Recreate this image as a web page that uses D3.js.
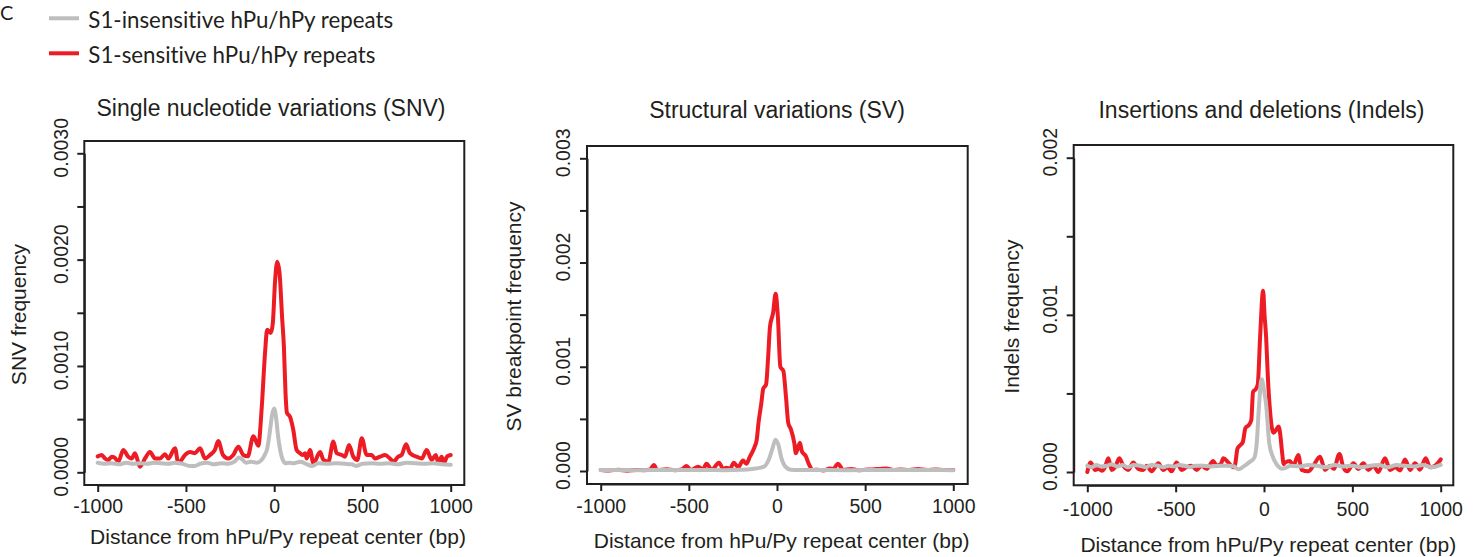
<!DOCTYPE html>
<html><head><meta charset="utf-8">
<script src="https://cdn.jsdelivr.net/npm/d3@7"></script>
<style>body{margin:0;background:#fff}svg{display:block}text{font-variant-ligatures:none;font-feature-settings:"liga" 0,"clig" 0}</style>
</head><body>
<svg id="chart" width="1484" height="557"></svg>
<script>
// ---------------- DATA ----------------
const legendLabels = ["S1-insensitive hPu/hPy repeats", "S1-sensitive hPu/hPy repeats"];
const panelTitles = ["Single nucleotide variations (SNV)", "Structural variations (SV)", "Insertions and deletions (Indels)"];
const yTitles = ["SNV frequency", "SV breakpoint frequency", "Indels frequency"];
const xTitle = "Distance from hPu/Py repeat center (bp)";
const xTickValues = [-1000, -500, 0, 500, 1000];
const xTickLabels = ["-1000", "-500", "0", "500", "1000"];
const snvYTicks = [0, 0.0005, 0.001, 0.0015, 0.002, 0.0025, 0.003];
const snvYLabels = ["0.0000", "", "0.0010", "", "0.0020", "", "0.0030"];
const svYTicks = [0, 0.0005, 0.001, 0.0015, 0.002, 0.0025, 0.003];
const svYLabels = ["0.000", "", "0.001", "", "0.002", "", "0.003"];
const indelYTicks = [0, 0.0005, 0.001, 0.0015, 0.002];
const indelYLabels = ["0.000", "", "0.001", "", "0.002"];

// SNV, S1-sensitive (red)
const snvSensBp = [-1000,-977,-959,-940,-921,-905,-883,-855,-827,-807,-789,-760,-732,-704,-675,-647,-619,-600,-562,-543,-505,-477,-449,-420,-392,-364,-336,-317,-290,-260,-232,-203,-175,-150,-118,-90,-71,-52,-40,-20,-8,5,17,30,45,55,64,72,90,108,127,146,160,175,184,203,222,260,279,307,335,354,382,401,424,448,471,496,524,552,571,600,628,656,675,703,722,747,769,807,836,864,892,915,930,949,962,980,1000];
const snvSensFreq = [0.15e-3,0.163e-3,0.13e-3,0.116e-3,0.147e-3,0.14e-3,0.10e-3,0.21e-3,0.147e-3,0.13e-3,0.18e-3,0.053e-3,0.13e-3,0.19e-3,0.13e-3,0.13e-3,0.17e-3,0.13e-3,0.226e-3,0.085e-3,0.163e-3,0.19e-3,0.18e-3,0.226e-3,0.13e-3,0.163e-3,0.21e-3,0.294e-3,0.163e-3,0.13e-3,0.163e-3,0.24e-3,0.163e-3,0.15e-3,0.34e-3,0.25e-3,0.60e-3,1.12e-3,1.34e-3,1.31e-3,1.40e-3,1.80e-3,1.98e-3,1.88e-3,1.45e-3,1.18e-3,0.75e-3,0.56e-3,0.52e-3,0.40e-3,0.21e-3,0.18e-3,0.163e-3,0.18e-3,0.13e-3,0.21e-3,0.085e-3,0.19e-3,0.116e-3,0.10e-3,0.29e-3,0.18e-3,0.163e-3,0.147e-3,0.257e-3,0.147e-3,0.116e-3,0.32e-3,0.163e-3,0.163e-3,0.13e-3,0.147e-3,0.163e-3,0.13e-3,0.10e-3,0.147e-3,0.163e-3,0.263e-3,0.18e-3,0.147e-3,0.13e-3,0.21e-3,0.116e-3,0.163e-3,0.09e-3,0.147e-3,0.09e-3,0.15e-3,0.163e-3];
// SNV, S1-insensitive (grey)
const snvInsBp = [-1000,-960,-920,-880,-840,-800,-760,-720,-680,-640,-600,-560,-520,-480,-450,-420,-380,-340,-300,-260,-225,-200,-180,-160,-130,-100,-75,-55,-40,-25,-12,0,10,22,35,48,65,85,110,150,180,215,250,300,350,400,440,463,500,550,600,650,700,750,800,850,900,950,1000];
const snvInsFreq = [0.09e-3,0.08e-3,0.085e-3,0.075e-3,0.09e-3,0.08e-3,0.085e-3,0.08e-3,0.09e-3,0.085e-3,0.08e-3,0.09e-3,0.08e-3,0.06e-3,0.06e-3,0.08e-3,0.09e-3,0.075e-3,0.085e-3,0.08e-3,0.10e-3,0.14e-3,0.12e-3,0.09e-3,0.10e-3,0.09e-3,0.11e-3,0.16e-3,0.22e-3,0.38e-3,0.54e-3,0.60e-3,0.52e-3,0.34e-3,0.20e-3,0.12e-3,0.085e-3,0.09e-3,0.085e-3,0.10e-3,0.08e-3,0.06e-3,0.085e-3,0.08e-3,0.085e-3,0.08e-3,0.075e-3,0.06e-3,0.08e-3,0.085e-3,0.08e-3,0.085e-3,0.075e-3,0.09e-3,0.085e-3,0.08e-3,0.085e-3,0.075e-3,0.07e-3];

// SV, S1-sensitive (red)
const svSensBp = [-1000,-950,-900,-850,-800,-750,-720,-698,-680,-626,-580,-540,-513,-490,-447,-420,-400,-370,-329,-305,-287,-265,-245,-220,-193,-174,-153,-140,-125,-115,-105,-89,-78,-62,-50,-40,-22,-8,5,19,36,51,64,79,98,107,130,141,164,182,204,230,263,300,320,345,376,420,460,500,540,580,620,660,700,750,800,850,900,950,1000];
const svSensFreq = [0.01e-3,0.005e-3,0.012e-3,0.003e-3,0.01e-3,0.008e-3,0.015e-3,0.058e-3,0.01e-3,0.016e-3,0.008e-3,0.015e-3,0.048e-3,0.01e-3,0.04e-3,0.015e-3,0.07e-3,0.012e-3,0.08e-3,0.02e-3,0.03e-3,0.025e-3,0.08e-3,0.035e-3,0.10e-3,0.07e-3,0.14e-3,0.18e-3,0.24e-3,0.30e-3,0.46e-3,0.65e-3,0.79e-3,0.83e-3,1.10e-3,1.38e-3,1.52e-3,1.70e-3,1.48e-3,1.00e-3,0.96e-3,0.71e-3,0.46e-3,0.40e-3,0.27e-3,0.17e-3,0.27e-3,0.19e-3,0.14e-3,0.06e-3,0.01e-3,0.012e-3,0.005e-3,0.025e-3,0.02e-3,0.07e-3,0.01e-3,0.02e-3,0.008e-3,0.012e-3,0.015e-3,0.02e-3,0.025e-3,0.01e-3,0.015e-3,0.01e-3,0.02e-3,0.01e-3,0.015e-3,0.01e-3,0.01e-3];
// SV, S1-insensitive (grey)
const svInsBp = [-1000,-800,-600,-400,-300,-200,-140,-100,-70,-55,-42,-25,-9,8,24,40,55,80,120,200,400,600,800,1000];
const svInsFreq = [0.01e-3,0.008e-3,0.01e-3,0.01e-3,0.008e-3,0.012e-3,0.02e-3,0.03e-3,0.045e-3,0.08e-3,0.13e-3,0.22e-3,0.30e-3,0.25e-3,0.13e-3,0.06e-3,0.03e-3,0.012e-3,0.01e-3,0.01e-3,0.008e-3,0.01e-3,0.01e-3,0.008e-3];

// Indels, S1-sensitive (red)
const indelSensBp = [-1000,-981,-956,-937,-918,-900,-881,-862,-843,-819,-797,-768,-740,-712,-683,-664,-636,-598,-570,-545,-523,-495,-466,-438,-410,-381,-353,-325,-287,-268,-245,-230,-202,-174,-164,-150,-135,-120,-105,-85,-72,-62,-45,-35,-22,-5,3,12,22,34,53,70,82,92,101,112,119,147,166,194,213,251,279,317,345,374,395,427,449,472,506,534,562,591,619,647,685,713,742,770,798,827,855,883,915,940,968,1000];
const indelSensFreq = [0.0,0.06e-3,0.013e-3,0.02e-3,0.008e-3,0.03e-3,0.087e-3,0.013e-3,0.03e-3,0.087e-3,0.04e-3,0.013e-3,0.06e-3,0.02e-3,0.013e-3,0.04e-3,0.004e-3,0.055e-3,0.013e-3,0.03e-3,0.004e-3,0.06e-3,0.013e-3,0.03e-3,0.04e-3,0.013e-3,0.04e-3,0.02e-3,0.07e-3,0.04e-3,0.05e-3,0.087e-3,0.06e-3,0.03e-3,0.045e-3,0.15e-3,0.17e-3,0.19e-3,0.28e-3,0.30e-3,0.33e-3,0.51e-3,0.53e-3,0.56e-3,0.86e-3,1.154e-3,1.00e-3,0.86e-3,0.60e-3,0.39e-3,0.25e-3,0.27e-3,0.29e-3,0.24e-3,0.14e-3,0.05e-3,0.06e-3,0.07e-3,0.04e-3,0.108e-3,0.013e-3,0.004e-3,0.04e-3,0.097e-3,0.013e-3,0.04e-3,0.02e-3,0.115e-3,0.03e-3,0.004e-3,0.055e-3,0.02e-3,0.055e-3,0.013e-3,0.04e-3,0.0,0.087e-3,0.013e-3,0.03e-3,0.01e-3,0.08e-3,0.013e-3,0.055e-3,0.015e-3,0.087e-3,0.03e-3,0.04e-3,0.08e-3];
// Indels, S1-insensitive (grey)
const indelInsBp = [-1000,-975,-950,-920,-890,-860,-830,-800,-770,-740,-700,-670,-640,-600,-570,-540,-510,-480,-450,-420,-390,-350,-300,-250,-200,-170,-145,-117,-79,-55,-40,-30,-13,0,12,30,49,65,81,100,120,150,200,250,300,350,400,450,500,550,600,650,700,750,800,850,900,950,1000];
const indelInsFreq = [0.04e-3,0.03e-3,0.045e-3,0.035e-3,0.04e-3,0.05e-3,0.035e-3,0.045e-3,0.03e-3,0.045e-3,0.04e-3,0.03e-3,0.045e-3,0.04e-3,0.03e-3,0.04e-3,0.035e-3,0.045e-3,0.04e-3,0.03e-3,0.04e-3,0.04e-3,0.035e-3,0.04e-3,0.04e-3,0.035e-3,0.017e-3,0.034e-3,0.066e-3,0.09e-3,0.2e-3,0.39e-3,0.59e-3,0.52e-3,0.43e-3,0.18e-3,0.10e-3,0.06e-3,0.036e-3,0.02e-3,0.025e-3,0.04e-3,0.035e-3,0.045e-3,0.04e-3,0.03e-3,0.045e-3,0.035e-3,0.04e-3,0.03e-3,0.04e-3,0.045e-3,0.03e-3,0.045e-3,0.04e-3,0.035e-3,0.045e-3,0.03e-3,0.045e-3];

// ---------------- STYLE / LAYOUT ----------------
const RED = "#ed1c24", GREY = "#bebebe", LEGEND_GREY = "#bcbec0", INK = "#231f20";
const FONT = "'Liberation Sans', Arial, Helvetica, sans-serif";
const LFONT = "Lato, 'Open Sans', sans-serif";

const svg = d3.select("#chart");

const panels = [
  { title: panelTitles[0], ytitle: yTitles[0], ticks: snvYTicks, labels: snvYLabels, ymax: 0.003,
    box: [84.3, 141, 464.3, 485], xr: [97.7, 450.7], yr: [472.3, 153.3],
    titleX: 271, titleY: 116, xlabY: 513, xtitleX: 278, xtitleY: 544, ylabX: 68, ytitleX: 26,
    series: [[snvSensBp, snvSensFreq, RED], [snvInsBp, snvInsFreq, GREY]] },
  { title: panelTitles[1], ytitle: yTitles[1], ticks: svYTicks, labels: svYLabels, ymax: 0.003,
    box: [587, 146, 967.7, 484], xr: [600.7, 953.3], yr: [471, 158.3],
    titleX: 777, titleY: 118.3, xlabY: 512.7, xtitleX: 781.7, xtitleY: 548.3, ylabX: 570, ytitleX: 520.5,
    series: [[svSensBp, svSensFreq, RED], [svInsBp, svInsFreq, GREY]] },
  { title: panelTitles[2], ytitle: yTitles[2], ticks: indelYTicks, labels: indelYLabels, ymax: 0.002,
    box: [1073.7, 145, 1453.3, 485.3], xr: [1087.3, 1440.7], yr: [472, 157.7],
    titleX: 1261.5, titleY: 118.3, xlabY: 516, xtitleX: 1268.3, xtitleY: 551.7, ylabX: 1056.7, ytitleX: 1019,
    series: [[indelSensBp, indelSensFreq, RED], [indelInsBp, indelInsFreq, GREY]] }
];

panels.forEach(p => {
  const x = d3.scaleLinear().domain([-1000, 1000]).range(p.xr);
  const y = d3.scaleLinear().domain([0, p.ymax]).range(p.yr);
  const g = svg.append("g");

  // lines
  const line = d3.line().x(d => x(d[0])).y(d => y(d[1])).curve(d3.curveMonotoneX);
  p.series.forEach(([bx, fy, col]) => {
    const pts = bx.map((b, i) => [b, fy[i]]);
    g.append("path").attr("d", line(pts)).attr("fill", "none").attr("stroke", col)
      .attr("stroke-width", 4).attr("stroke-linejoin", "round").attr("stroke-linecap", "round");
  });

  // box
  const [bx0, by0, bx1, by1] = p.box;
  g.append("rect").attr("x", bx0).attr("y", by0).attr("width", bx1 - bx0).attr("height", by1 - by0)
    .attr("fill", "none").attr("stroke", INK).attr("stroke-width", 2);

  // x axis
  const gx = g.append("g").attr("transform", `translate(0,${by1})`)
    .call(d3.axisBottom(x).tickValues(xTickValues).tickFormat((d, i) => xTickLabels[i]).tickSize(7).tickSizeOuter(0));
  gx.select(".domain").attr("stroke", INK).attr("stroke-width", 2);
  gx.selectAll(".tick line").attr("stroke", INK).attr("stroke-width", 2);
  gx.selectAll(".tick text").attr("dy", null).attr("y", p.xlabY - by1)
    .attr("font-family", FONT).attr("font-size", 19.5).attr("fill", INK);

  // y axis
  const gy = g.append("g").attr("transform", `translate(${bx0},0)`)
    .call(d3.axisLeft(y).tickValues(p.ticks).tickFormat((d, i) => p.labels[i]).tickSize(7).tickSizeOuter(0));
  gy.select(".domain").attr("stroke", INK).attr("stroke-width", 2);
  gy.selectAll(".tick line").attr("stroke", INK).attr("stroke-width", 2);
  gy.selectAll(".tick text").attr("x", null).attr("dy", null)
    .attr("transform", `translate(${p.ylabX - bx0},-6) rotate(-90)`)
    .attr("text-anchor", "middle").attr("font-family", FONT).attr("font-size", 19.5).attr("fill", INK);

  // titles
  g.append("text").attr("x", p.titleX).attr("y", p.titleY).attr("text-anchor", "middle")
    .attr("font-family", FONT).attr("font-size", 23).attr("fill", INK).text(p.title);
  g.append("text").attr("x", p.xtitleX).attr("y", p.xtitleY).attr("text-anchor", "middle")
    .attr("font-family", FONT).attr("font-size", 21).attr("fill", INK).text(xTitle);
  const cy = (by0 + by1) / 2 + 1.5;
  g.append("text").attr("transform", `translate(${p.ytitleX},${cy}) rotate(-90)`).attr("text-anchor", "middle")
    .attr("font-family", FONT).attr("font-size", 21).attr("fill", INK).text(p.ytitle);
});

// panel letter
svg.append("text").attr("x", 0).attr("y", 20).attr("text-anchor", "start")
  .attr("font-family", LFONT).attr("font-size", 20).attr("fill", INK).text("C");

// legend
const leg = svg.append("g");
const legendColors = [LEGEND_GREY, RED];
const legendLineY = [18.3, 53.3];
const legendTextY = [28.3, 63.3];
legendLabels.forEach((lab, i) => {
  leg.append("line").attr("x1", 49).attr("x2", 79).attr("y1", legendLineY[i]).attr("y2", legendLineY[i])
    .attr("stroke", legendColors[i]).attr("stroke-width", 4);
});
const lt = legendLabels.map((lab, i) => leg.append("text").attr("x", 88.3).attr("y", legendTextY[i])
  .attr("font-family", LFONT).attr("font-size", 20).attr("fill", INK).text(lab));
const w0 = lt[0].node().getComputedTextLength();
const fs = 20 * 305 / w0;
lt.forEach(t => t.attr("font-size", fs));
</script>
</body></html>
